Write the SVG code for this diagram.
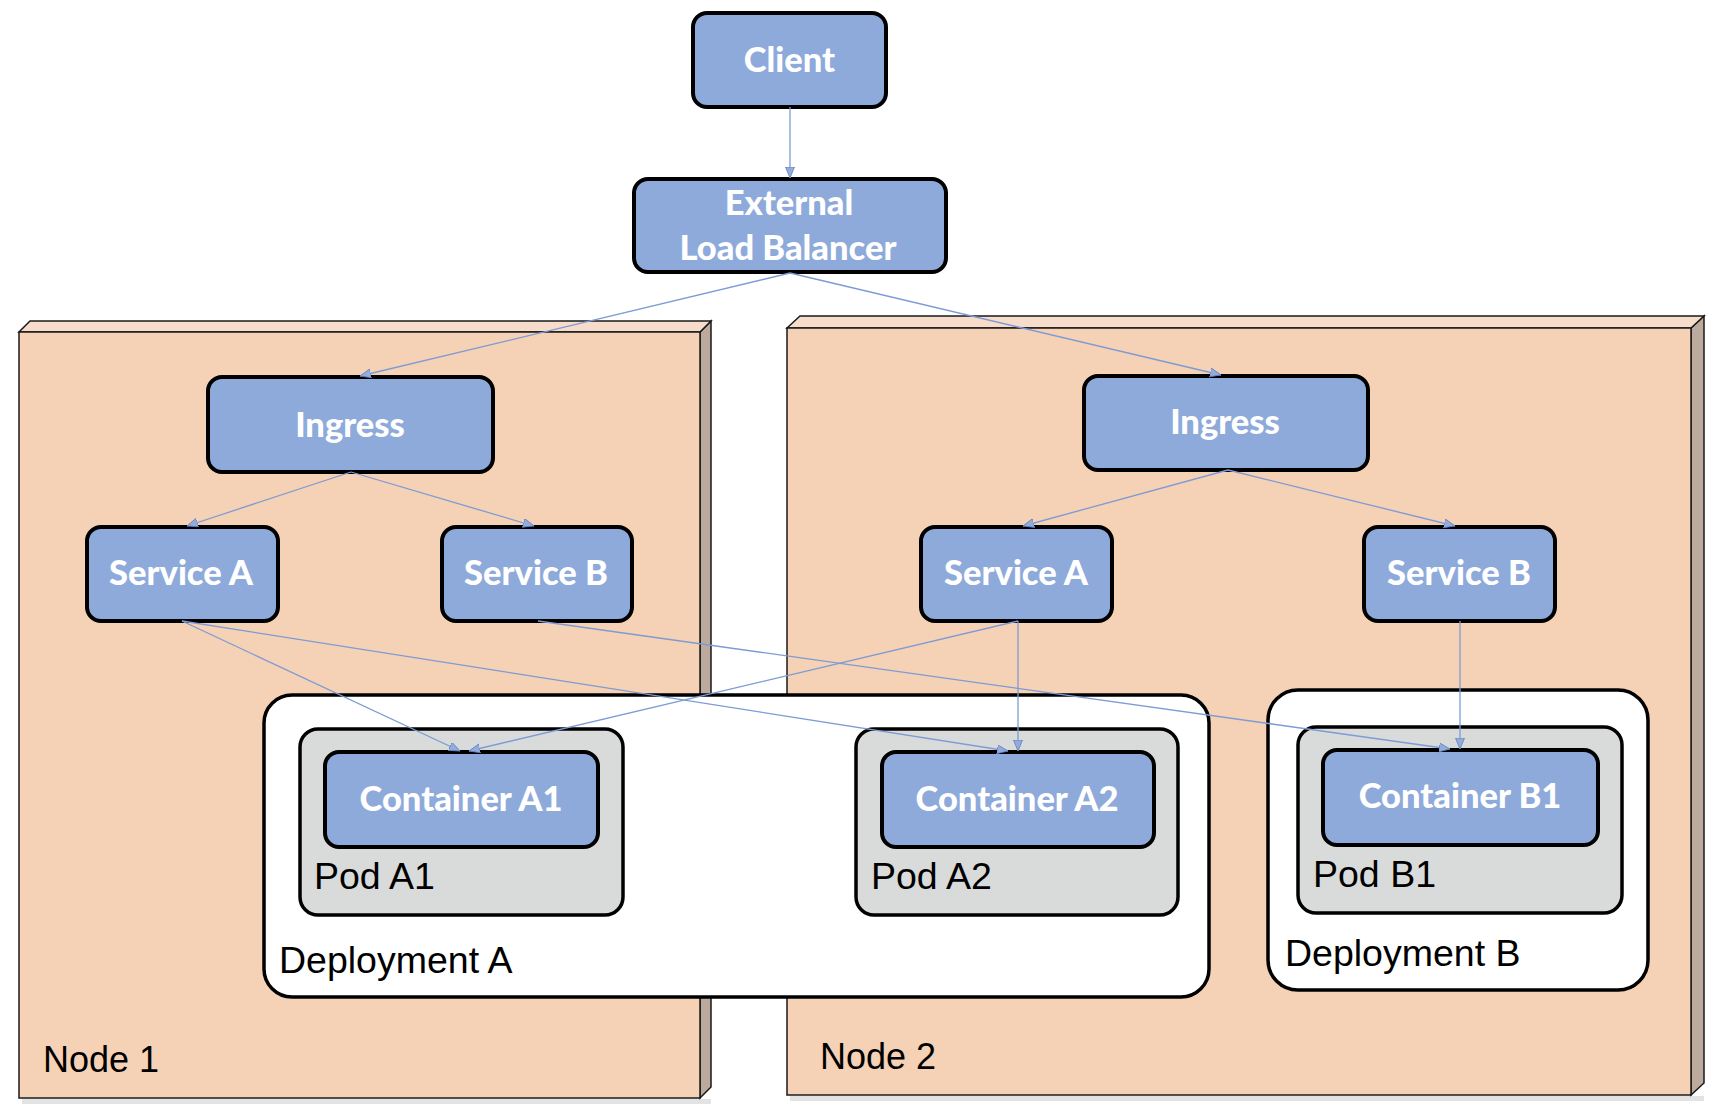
<svg xmlns="http://www.w3.org/2000/svg" width="1722" height="1120" viewBox="0 0 1722 1120">
<style>
.front{fill:#f5d1b5;stroke:#1a1a1a;stroke-width:1.5}
.top{fill:#f7dccb;stroke:#1a1a1a;stroke-width:1.5}
.side{fill:#bcaa9c;stroke:#1a1a1a;stroke-width:1.5}
.blue{fill:#8eaadb;stroke:#000;stroke-width:4}
.pod{fill:#d9dbdb;stroke:#000;stroke-width:3.5}
.dep{fill:#fff;stroke:#000;stroke-width:3.5}
.bl{font-family:Lato,"Open Sans",sans-serif;font-weight:900;font-size:34.5px;fill:#fff;text-anchor:middle}
.lab{font-family:"Liberation Sans",Arial,sans-serif;font-size:37.5px;fill:#000}
.nl{font-family:"Liberation Sans",Arial,sans-serif;font-size:36px;fill:#000}
.con{stroke:#7d9bd4;stroke-width:1.3;fill:none;marker-end:url(#arr)}
.shadow{fill:#e3e3e3}
</style>
<defs>
<marker id="arr" markerUnits="userSpaceOnUse" markerWidth="12" markerHeight="10" refX="11" refY="4.5" orient="auto">
<path d="M0,0 L11,4.5 L0,9 z" fill="#94acd9" stroke="#5c7fc2" stroke-width="0.8"/>
</marker>
</defs>

<g id="node1">
<rect class="shadow" x="22" y="1099" width="689" height="5"/>
<polygon class="side" points="700,332 711,321 711,1087 700,1098"/>
<polygon class="top" points="19,332 30,321 711,321 700,332"/>
<rect class="front" x="19" y="332" width="681" height="766"/>
<text class="nl" x="43" y="1072">Node 1</text>
</g>
<g id="node2">
<rect class="shadow" x="790" y="1096" width="914" height="5"/>
<polygon class="side" points="1691,328 1704,316 1704,1083 1691,1095"/>
<polygon class="top" points="787,328 800,316 1704,316 1691,328"/>
<rect class="front" x="787" y="328" width="904" height="767"/>
<text class="nl" x="820" y="1069">Node 2</text>
</g>

<g id="deployment-a">
<rect class="dep" x="264" y="695" width="945" height="302" rx="28"/>
<text class="lab" x="279" y="973">Deployment A</text>
</g>
<g id="deployment-b">
<rect class="dep" x="1268" y="690" width="380" height="300" rx="30"/>
<text class="lab" x="1285" y="966">Deployment B</text>
</g>
<g id="pod-a1">
<rect class="pod" x="300" y="729" width="323" height="186" rx="18"/>
<text class="lab" x="314" y="889">Pod A1</text>
</g>
<g id="pod-a2">
<rect class="pod" x="856" y="729" width="322" height="186" rx="18"/>
<text class="lab" x="871" y="889">Pod A2</text>
</g>
<g id="pod-b1">
<rect class="pod" x="1298" y="727" width="324" height="186" rx="18"/>
<text class="lab" x="1313" y="887">Pod B1</text>
</g>

<g id="client">
<rect class="blue" x="693" y="13" width="193" height="94" rx="14"/>
<text class="bl" x="789.5" y="72">Client</text>
</g>
<g id="elb">
<rect class="blue" x="634" y="179" width="312" height="93" rx="14"/>
<text class="bl" x="789" y="215">External</text>
<text class="bl" x="788" y="260">Load Balancer</text>
</g>
<g id="ingress1">
<rect class="blue" x="208" y="377" width="285" height="95" rx="14"/>
<text class="bl" x="350" y="437">Ingress</text>
</g>
<g id="service-a1">
<rect class="blue" x="87" y="527" width="191" height="94" rx="14"/>
<text class="bl" x="181" y="585">Service A</text>
</g>
<g id="service-b1">
<rect class="blue" x="442" y="527" width="190" height="94" rx="14"/>
<text class="bl" x="536" y="585">Service B</text>
</g>
<g id="ingress2">
<rect class="blue" x="1084" y="376" width="284" height="94" rx="14"/>
<text class="bl" x="1225" y="434">Ingress</text>
</g>
<g id="service-a2">
<rect class="blue" x="921" y="527" width="191" height="94" rx="14"/>
<text class="bl" x="1016" y="585">Service A</text>
</g>
<g id="service-b2">
<rect class="blue" x="1364" y="527" width="191" height="94" rx="14"/>
<text class="bl" x="1459" y="585">Service B</text>
</g>
<g id="container-a1">
<rect class="blue" x="325" y="752" width="273" height="95" rx="14"/>
<text class="bl" x="461" y="811">Container A1</text>
</g>
<g id="container-a2">
<rect class="blue" x="882" y="752" width="272" height="95" rx="14"/>
<text class="bl" x="1017" y="811">Container A2</text>
</g>
<g id="container-b1">
<rect class="blue" x="1323" y="750" width="275" height="95" rx="14"/>
<text class="bl" x="1460" y="808">Container B1</text>
</g>

<g id="connectors">
<line class="con" x1="790" y1="107" x2="790" y2="178"/>
<line class="con" x1="790" y1="273" x2="360" y2="376"/>
<line class="con" x1="790" y1="273" x2="1221" y2="375"/>
<line class="con" x1="351" y1="472" x2="187" y2="526"/>
<line class="con" x1="351" y1="472" x2="534" y2="526"/>
<line class="con" x1="1228" y1="470" x2="1023" y2="526"/>
<line class="con" x1="1228" y1="470" x2="1455" y2="526"/>
<line class="con" x1="182" y1="621" x2="460" y2="751"/>
<line class="con" x1="182" y1="621" x2="1008" y2="751"/>
<line class="con" x1="1018" y1="621" x2="469" y2="751"/>
<line class="con" x1="1018" y1="621" x2="1018" y2="751"/>
<line class="con" x1="538" y1="621" x2="1450" y2="749"/>
<line class="con" x1="1460" y1="621" x2="1460" y2="749"/>
</g>
</svg>
